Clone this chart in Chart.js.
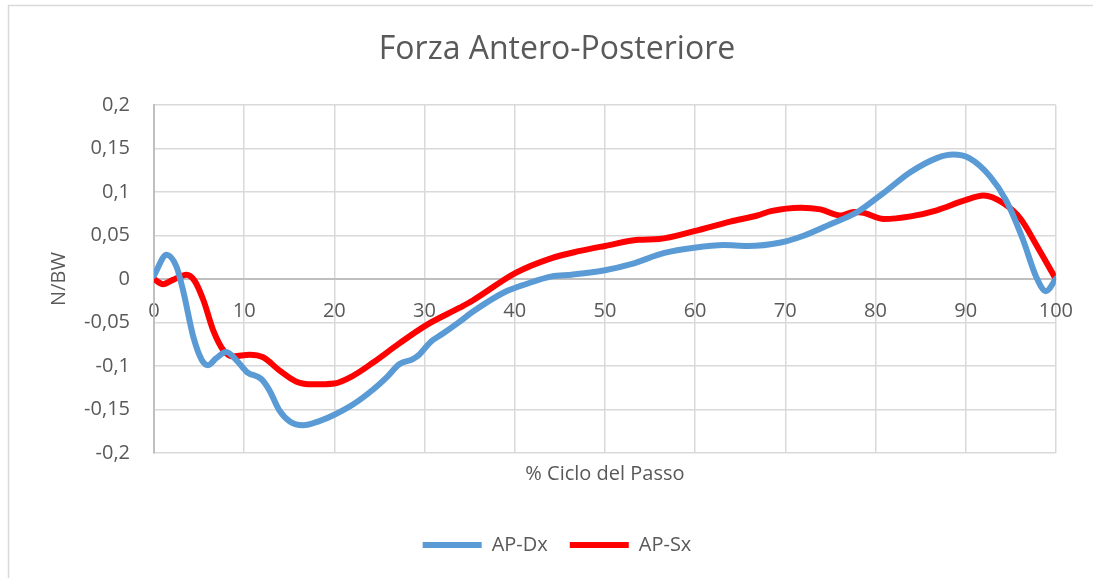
<!DOCTYPE html>
<html><head><meta charset="utf-8">
<script src="https://cdn.jsdelivr.net/npm/chart.js@4.4.1/dist/chart.umd.min.js"></script>
<style>html,body{margin:0;padding:0;background:#fff;}canvas{display:block;}</style>
</head><body>
<canvas id="c" width="1093" height="578"></canvas>
<script>
const chartTitle = 'Forza Antero-Posteriore';
const xTitle = '% Ciclo del Passo';
const yTitle = 'N/BW';
const seriesNames = ['AP-Dx', 'AP-Sx'];

const dxPct = [0,1.4,2.5,3.2,4.4,5.3,6.0,6.9,8.0,9.2,10.3,11.9,12.8,13.9,15.1,16.5,18.4,20,22.1,24.3,25.8,27.2,28.7,29.4,30.7,32,33.9,35.3,38.9,41.2,44.1,46.3,50,52.9,56.6,59.9,63.2,65.8,69.5,72.1,75.0,78.0,80.9,83.9,86.8,88.6,90.4,92.7,94.5,96.4,97.8,98.9,100];
const dxVal = [0.004,0.028,0.014,-0.012,-0.068,-0.093,-0.099,-0.091,-0.084,-0.094,-0.107,-0.115,-0.128,-0.151,-0.164,-0.168,-0.163,-0.156,-0.144,-0.127,-0.113,-0.098,-0.092,-0.087,-0.072,-0.063,-0.049,-0.038,-0.015,-0.006,0.003,0.005,0.010,0.017,0.030,0.036,0.039,0.038,0.042,0.050,0.063,0.077,0.099,0.123,0.139,0.143,0.139,0.118,0.090,0.044,0.003,-0.014,0];

const sxPct = [0,1.0,2.1,3.6,4.5,5.5,6.6,7.7,8.8,10.6,12.1,13.9,15.8,17.6,20.0,22.1,24.3,27.2,30.2,33.9,35.3,40.1,44.1,47.1,50,53.7,56.0,59.9,63.9,66.9,68.4,71.7,73.9,76.1,77.6,78.7,80.9,83.9,86.8,89.8,92.0,94.2,96.1,97.9,100];
const sxVal = [0,-0.006,-0.001,0.005,-0.002,-0.025,-0.060,-0.082,-0.089,-0.087,-0.090,-0.105,-0.118,-0.121,-0.120,-0.111,-0.096,-0.074,-0.053,-0.033,-0.025,0.007,0.024,0.032,0.038,0.045,0.046,0.055,0.066,0.073,0.078,0.082,0.080,0.073,0.077,0.076,0.069,0.072,0.079,0.090,0.096,0.087,0.069,0.038,0];

const xTicks = [0,10,20,30,40,50,60,70,80,90,100];
const xTickLabels = ['0','10','20','30','40','50','60','70','80','90','100'];
const yTicks = [-0.2,-0.15,-0.1,-0.05,0,0.05,0.1,0.15,0.2];
const yTickLabels = ['-0,2','-0,15','-0,1','-0,05','0','0,05','0,1','0,15','0,2'];

const FONT = "'Open Sans', 'Noto Sans', sans-serif";
const TXT = '#595959';

function pts(xs, ys){ return xs.map((x,i)=>({x:x, y:ys[i]})); }
function nearestIdx(arr, v){ let b=0; for(let i=1;i<arr.length;i++){ if(Math.abs(arr[i]-v)<Math.abs(arr[b]-v)) b=i; } return b; }

const borderPlugin = {
  id: 'frame',
  beforeDraw(chart){
    const ctx = chart.ctx;
    ctx.save();
    ctx.strokeStyle = '#d9d9d9';
    ctx.lineWidth = 1.5;
    ctx.beginPath();
    ctx.moveTo(8.5, 578); ctx.lineTo(8.5, 5.5); ctx.lineTo(1093, 5.5);
    ctx.stroke();
    ctx.restore();
  }
};

new Chart(document.getElementById('c'), {
  type: 'line',
  data: {
    datasets: [
      { label: seriesNames[0], data: pts(dxPct, dxVal), borderColor: '#5B9BD5', backgroundColor: '#5B9BD5',
        borderWidth: 6, pointRadius: 0, cubicInterpolationMode: 'monotone', borderCapStyle: 'round', borderJoinStyle: 'round', xAxisID: 'x', yAxisID: 'y' },
      { label: seriesNames[1], data: pts(sxPct, sxVal), borderColor: '#FF0000', backgroundColor: '#FF0000',
        borderWidth: 6, pointRadius: 0, cubicInterpolationMode: 'monotone', borderCapStyle: 'round', borderJoinStyle: 'round', xAxisID: 'x', yAxisID: 'y' }
    ]
  },
  options: {
    responsive: false,
    animation: false,
    devicePixelRatio: 1,
    layout: { padding: { left: 55, right: 34, top: 0, bottom: 13 } },
    plugins: {
      title: { display: true, text: chartTitle, color: TXT, font: { family: FONT, size: 32, weight: 'normal' }, padding: { top: 30.8, bottom: 35.8 } },
      legend: { display: true, position: 'bottom',
        labels: { color: TXT, font: { family: FONT, size: 20 }, usePointStyle: true, pointStyle: 'line', pointStyleWidth: 59, padding: 22 } },
      tooltip: { enabled: false }
    },
    scales: {
      x: {
        type: 'linear', min: 0, max: 100, position: { y: 0 },
        afterBuildTicks(s){ s.ticks = xTicks.map(v=>({value:v})); },
        ticks: { color: TXT, font: { family: FONT, size: 20 }, padding: 20, maxRotation: 0, autoSkip: false,
          callback: (v)=> xTickLabels[nearestIdx(xTicks, v)] },
        grid: { color: '#d9d9d9', lineWidth: 1.5, drawTicks: false },
        border: { color: '#bfbfbf', width: 2 }
      },
      x2: {
        type: 'linear', min: 0, max: 100, position: 'bottom', axis: 'x',
        afterFit(s){ s.height = 60; },
        ticks: { display: false },
        grid: { display: false, drawTicks: false },
        border: { display: false },
        title: { display: true, text: xTitle, color: TXT, font: { family: FONT, size: 20 }, padding: { top: 0, bottom: 27 } }
      },
      y: {
        type: 'linear', min: -0.2, max: 0.2, position: 'left',
        afterFit(s){ s.width = 154 - 55; },
        afterBuildTicks(s){ s.ticks = yTicks.map(v=>({value:v})); },
        ticks: { color: TXT, font: { family: FONT, size: 20 }, padding: 24,
          callback: (v)=> yTickLabels[nearestIdx(yTicks, v)] },
        grid: { color: '#d9d9d9', lineWidth: 1.5, drawTicks: false },
        border: { color: '#bfbfbf', width: 2 },
        title: { display: true, text: yTitle, color: TXT, font: { family: FONT, size: 20 }, padding: { top: -8, bottom: 0 } }
      }
    }
  },
  plugins: [borderPlugin]
});
</script>
</body></html>
